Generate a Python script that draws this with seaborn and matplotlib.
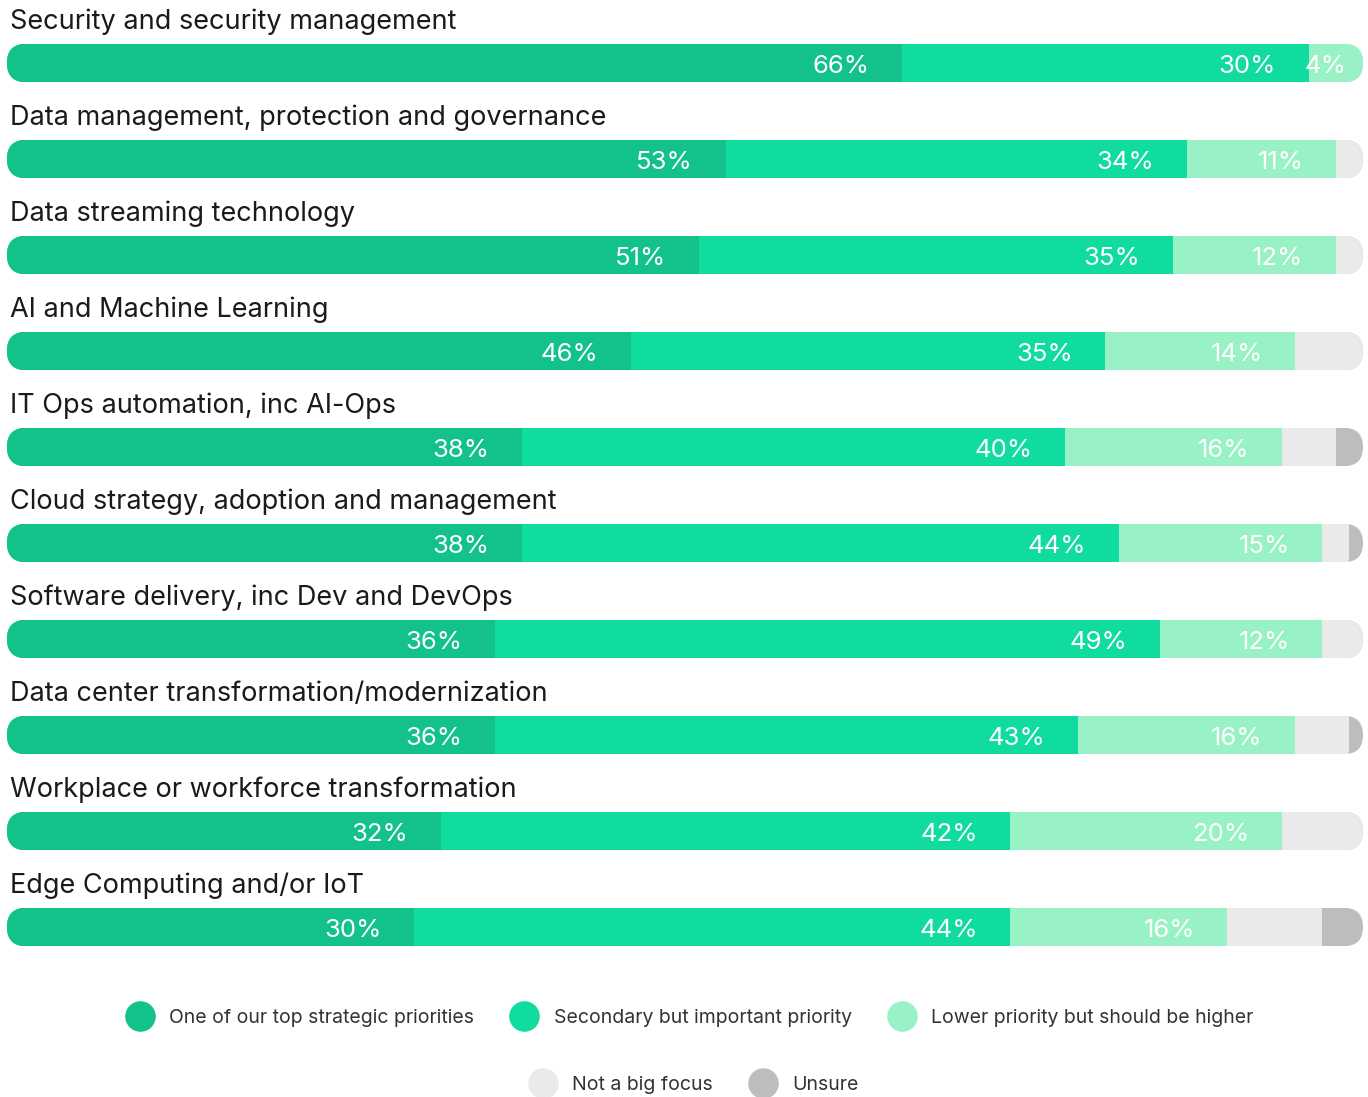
import pandas as pd
import seaborn as sns
import matplotlib.pyplot as plt
from matplotlib.patches import FancyBboxPatch
from matplotlib.lines import Line2D

categories = [
    "Security and security management",
    "Data management, protection and governance",
    "Data streaming technology",
    "AI and Machine Learning",
    "IT Ops automation, inc AI-Ops",
    "Cloud strategy, adoption and management",
    "Software delivery, inc Dev and DevOps",
    "Data center transformation/modernization",
    "Workplace or workforce transformation",
    "Edge Computing and/or IoT",
]
top = [66, 53, 51, 46, 38, 38, 36, 36, 32, 30]
secondary = [30, 34, 35, 35, 40, 44, 49, 43, 42, 44]
lower = [4, 11, 12, 14, 16, 15, 12, 16, 20, 16]
not_big = [0, 2, 2, 5, 4, 2, 3, 4, 6, 7]
unsure = [0, 0, 0, 0, 2, 1, 0, 1, 0, 3]

series_names = [
    "One of our top strategic priorities",
    "Secondary but important priority",
    "Lower priority but should be higher",
    "Not a big focus",
    "Unsure",
]
colors = ["#13C28A", "#0FDC9E", "#98F2C6", "#EAEAEA", "#BDBDBD"]

cols = ["top", "secondary", "lower", "not_big", "unsure"]
df = pd.DataFrame({"category": categories, "top": top, "secondary": secondary,
                   "lower": lower, "not_big": not_big, "unsure": unsure})
cum = df[cols].cumsum(axis=1)

sns.set_theme(style="white")
plt.rcParams["font.family"] = ["Inter", "DejaVu Sans"]

W, H = 1368, 1097
fig = plt.figure(figsize=(W / 100, H / 100), dpi=100)
ax = fig.add_axes([7 / W, 1 - 975 / H, 1356 / W, 960 / H])

bar_h = 0.4
# draw cumulative totals from the back so each series sits on top of the next
for col, color in reversed(list(zip(cols, colors))):
    sns.barplot(x=cum[col], y=df["category"], color=color, width=bar_h,
                orient="h", ax=ax, saturation=1, linewidth=0)

ax.set_xlim(0, 100)
ax.set_ylim(len(categories) - 0.5, -0.5)
ax.axis("off")

# rounded ends: clip every bar in a row to a pill shape
px_x = 1356 / 100
px_y = 96
r_x = (bar_h / 2) * px_y / px_x
aspect = (bar_h / 2) / r_x
clips = []
for i in range(len(categories)):
    clip = FancyBboxPatch((0, i - bar_h / 2), 100, bar_h,
                          boxstyle=f"round,pad=0,rounding_size={r_x * 0.999}",
                          mutation_aspect=aspect, transform=ax.transData)
    clips.append(clip)
for p in ax.patches:
    row = int(round(p.get_y() + p.get_height() / 2))
    p.set_clip_path(clips[row])

for i, cat in enumerate(categories):
    ax.text(0.2, i - 0.43, cat, ha="left", va="center", fontsize=19.5, color="#1a1a1a")
    for col in cols[:3]:
        val = df[col][i]
        end = cum[col][i]
        off = 2.4 if val > 6 else 1.2
        ax.text(end - off, i + 0.04, f"{val}%", ha="right", va="center",
                color="white", fontsize=18.5)

def handles(cs):
    return [Line2D([], [], marker="o", linestyle="", markersize=22,
                   markerfacecolor=c, markeredgecolor="none") for c in cs]

leg_kw = dict(loc="center", frameon=False, fontsize=14, handletextpad=0.9,
              columnspacing=2.0, handlelength=1.2, labelcolor="#333333")
fig.legend(handles(colors[:3]), series_names[:3], bbox_to_anchor=(0.505, 0.072),
           ncol=3, **leg_kw)
fig.legend(handles(colors[3:]), series_names[3:], bbox_to_anchor=(0.508, 0.011),
           ncol=2, **leg_kw)

fig.savefig("out.png", dpi=100)
